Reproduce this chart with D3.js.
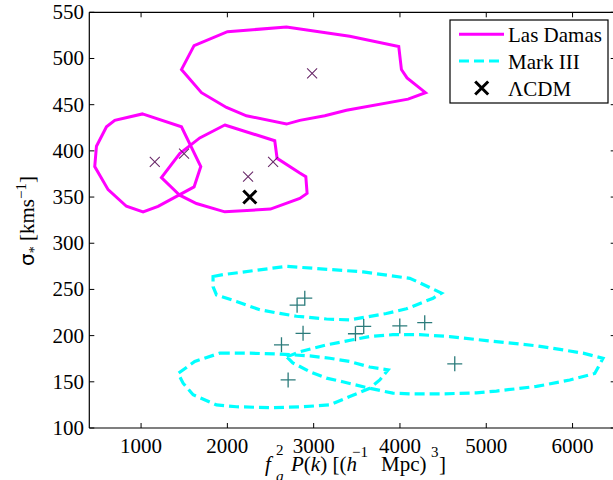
<!DOCTYPE html>
<html>
<head>
<meta charset="utf-8">
<script src="https://cdn.jsdelivr.net/npm/d3@7"></script>
<style>
  html, body { margin: 0; padding: 0; background: #fff; }
  svg { display: block; }
  text { font-family: "Liberation Serif", "Times New Roman", serif; fill: #000; }
</style>
</head>
<body>
<svg id="chart" width="613" height="480"></svg>
<script>
// ---------- data ----------
const xTicks = [1000, 2000, 3000, 4000, 5000, 6000];
const yTicks = [100, 150, 200, 250, 300, 350, 400, 450, 500, 550];

// Las Damas 1-sigma contours (f_g^2 P(k), sigma_*)
const lasDamasContourTop = [
  [1468,488],[1614,514],[2001,529],[2685,534],[3418,524],[3986,513],[4017,488],
  [4082,479],[4296,463],[4094,456],[3380,444],[3129,438],[2839,433],[2685,429],
  [2221,438],[1990,447],[1700,463]
];
const lasDamasContourLeft = [
  [1016,440],[1468,426],[1692,383],[1614,361],[1197,340],[1023,334],[830,340],
  [618,358],[463,383],[483,405],[599,426],[695,433]
];
const lasDamasContourMid = [
  [1970,428],[2549,411],[2576,392],[2839,376],[2909,372],[2924,354],[2839,348.5],
  [2499,337],[1970,334],[1642,343],[1448,352],[1236,371],[1448,397],[1680,414]
];
const lasDamasPoints = [[1159,388],[1498,397],[2240,372],[2530,388],[2982,484]];
const lcdmPoint = [[2260,350]];

// Mark III 1-sigma contours
const markContourTop = [
  [1834,264],[1950,266],[2685,275],[3572,269],[4114,262],[4210,258],[4481,246],
  [4384,240.5],[4075,229],[3843,224],[3418,217],[3148,218],[2800,221],[2607,224],
  [2375,228],[2105,237],[1874,244],[1834,253]
];
const markContourLeft = [
  [1912,181],[2260,181],[2607,180],[2955,178],[3187,175.5],[3418,172],[3650,166],
  [3862,163],[3766,152],[3650,143],[3418,134],[3187,125],[2874,123],[2491,122],
  [2105,123],[1874,125],[1603,136],[1487,148.5],[1429,159],[1622,172]
];
const markContourRight = [
  [2688,177],[2839,182.5],[3152,190],[3453,195.5],[3650,199],[3917,201],[4229,201],
  [4577,199],[5002,194.6],[5582,189],[5890,184.5],[6122,181],[6353,175.5],[6257,159],
  [5968,152],[5582,145],[5118,140],[4886,138],[4499,137],[4114,137],[3917,137.7],
  [3650,143],[3337,150],[3148,154],[2955,161],[2758,170.5]
];
const markPoints = [
  [2897,240.5],[2808,233],[2877,202.5],[2627,190],[2704,152],
  [3580,210],[3484,202],[3998,210.5],[4287,214],[4635,169.5]
];

const legendLabels = ["Las Damas", "Mark III", "\u039BCDM"];

// ---------- layout ----------
const svg = d3.select("#chart");
const pLeft = 89.3, pRight = 615.7, pTop = 12.3, pBottom = 428;
const x = d3.scaleLinear().domain([400, 6500]).range([pLeft, pRight]);
const y = d3.scaleLinear().domain([100, 550]).range([pBottom, pTop]);

const magenta = "#ff00ff", cyan = "#00ffff";
const ldMarker = "#6a2a6a", mkMarker = "#2b7b7b";

svg.append("defs").append("clipPath").attr("id", "clip")
  .append("rect").attr("x", pLeft).attr("y", pTop)
  .attr("width", pRight - pLeft).attr("height", pBottom - pTop);

const plot = svg.append("g").attr("clip-path", "url(#clip)");
const line = d3.line().x(d => x(d[0])).y(d => y(d[1])).curve(d3.curveLinearClosed);

// Mark III contours
[markContourTop, markContourLeft, markContourRight].forEach(c => {
  plot.append("path").attr("d", line(c)).attr("fill", "none")
    .attr("stroke", cyan).attr("stroke-width", 3.2)
    .attr("stroke-dasharray", "10,5").attr("stroke-linejoin", "miter");
});
// Las Damas contours
[lasDamasContourTop, lasDamasContourLeft, lasDamasContourMid].forEach(c => {
  plot.append("path").attr("d", line(c)).attr("fill", "none")
    .attr("stroke", magenta).attr("stroke-width", 3).attr("stroke-linejoin", "miter");
});

// markers
function cross(g, cx, cy, r, color, w) {
  g.append("path")
    .attr("d", `M${cx-r},${cy-r}L${cx+r},${cy+r}M${cx-r},${cy+r}L${cx+r},${cy-r}`)
    .attr("stroke", color).attr("stroke-width", w).attr("fill", "none");
}
function plus(g, cx, cy, r, color, w) {
  g.append("path")
    .attr("d", `M${cx-r},${cy}L${cx+r},${cy}M${cx},${cy-r}L${cx},${cy+r}`)
    .attr("stroke", color).attr("stroke-width", w).attr("fill", "none");
}
markPoints.forEach(d => plus(plot, x(d[0]), y(d[1]), 7.5, mkMarker, 1.3));
lasDamasPoints.forEach(d => cross(plot, x(d[0]), y(d[1]), 5, ldMarker, 1.1));
lcdmPoint.forEach(d => cross(plot, x(d[0]), y(d[1]), 6.5, "#000", 3));

// ---------- axes ----------
const axes = svg.append("g");
const tl = 5;
[[pLeft, pRight, pBottom, pBottom], [pLeft, pRight, pTop, pTop],
 [pLeft, pLeft, pTop, pBottom], [pRight, pRight, pTop, pBottom]].forEach(s => {
  axes.append("line").attr("x1", s[0]).attr("x2", s[1]).attr("y1", s[2]).attr("y2", s[3])
    .attr("stroke", "#000").attr("stroke-width", 1.2);
});

xTicks.forEach(t => {
  const px = x(t);
  axes.append("line").attr("x1", px).attr("x2", px).attr("y1", pBottom).attr("y2", pBottom - tl)
    .attr("stroke", "#000");
  axes.append("line").attr("x1", px).attr("x2", px).attr("y1", pTop).attr("y2", pTop + tl)
    .attr("stroke", "#000");
  axes.append("text").attr("x", px).attr("y", 453).attr("text-anchor", "middle")
    .attr("font-size", 21).text(t);
});
yTicks.forEach(t => {
  const py = y(t);
  axes.append("line").attr("x1", pLeft).attr("x2", pLeft + tl).attr("y1", py).attr("y2", py)
    .attr("stroke", "#000");
  axes.append("line").attr("x1", pRight).attr("x2", pRight - tl).attr("y1", py).attr("y2", py)
    .attr("stroke", "#000");
  axes.append("text").attr("x", 84).attr("y", py + 7).attr("text-anchor", "end")
    .attr("font-size", 21).text(t);
});

// x label
const xl = svg.append("g").attr("font-size", 21);
xl.append("text").attr("x", 265).attr("y", 471).attr("font-style", "italic").text("f");
xl.append("text").attr("x", 276).attr("y", 455).attr("font-size", 15).text("2");
xl.append("text").attr("x", 276).attr("y", 481).attr("font-size", 15).attr("font-style", "italic").text("g");
const xt = xl.append("text").attr("x", 291).attr("y", 471);
xt.append("tspan").attr("font-style", "italic").text("P");
xt.append("tspan").text("(");
xt.append("tspan").attr("font-style", "italic").text("k");
xt.append("tspan").text(") [(");
xt.append("tspan").attr("font-style", "italic").text("h");
xl.append("text").attr("x", 352).attr("y", 457).attr("font-size", 15).text("\u22121");
xl.append("text").attr("x", 381).attr("y", 471).text("Mpc)");
xl.append("text").attr("x", 431).attr("y", 457).attr("font-size", 15).text("3");
xl.append("text").attr("x", 439).attr("y", 471).text("]");

// y label
const yl = svg.append("text").attr("transform", "translate(34,221) rotate(-90)")
  .attr("text-anchor", "middle").attr("font-size", 21);
yl.append("tspan").attr("font-family", "DejaVu Sans, sans-serif").attr("font-size", 20).text("\u03C3");
yl.append("tspan").attr("dy", 5).attr("font-size", 14).text("*");
yl.append("tspan").attr("dy", -5).text(" [kms");
yl.append("tspan").attr("dy", -8).attr("font-size", 15).text("\u22121");
yl.append("tspan").attr("dy", 8).text("]");

// ---------- legend ----------
const lg = svg.append("g");
lg.append("rect").attr("x", 450).attr("y", 20).attr("width", 158).attr("height", 83)
  .attr("fill", "#fff").attr("stroke", "#000").attr("stroke-width", 1.2);
const rows = [34.3, 61, 88];
lg.append("line").attr("x1", 459).attr("x2", 504).attr("y1", rows[0]).attr("y2", rows[0])
  .attr("stroke", magenta).attr("stroke-width", 3);
lg.append("line").attr("x1", 459).attr("x2", 504).attr("y1", rows[1]).attr("y2", rows[1])
  .attr("stroke", cyan).attr("stroke-width", 3.2).attr("stroke-dasharray", "10,5");
cross(lg, 481.7, rows[2], 6.5, "#000", 3);
legendLabels.forEach((l, i) => {
  lg.append("text").attr("x", 508).attr("y", rows[i] + 7.5).attr("font-size", 21).text(l);
});
</script>
</body>
</html>
